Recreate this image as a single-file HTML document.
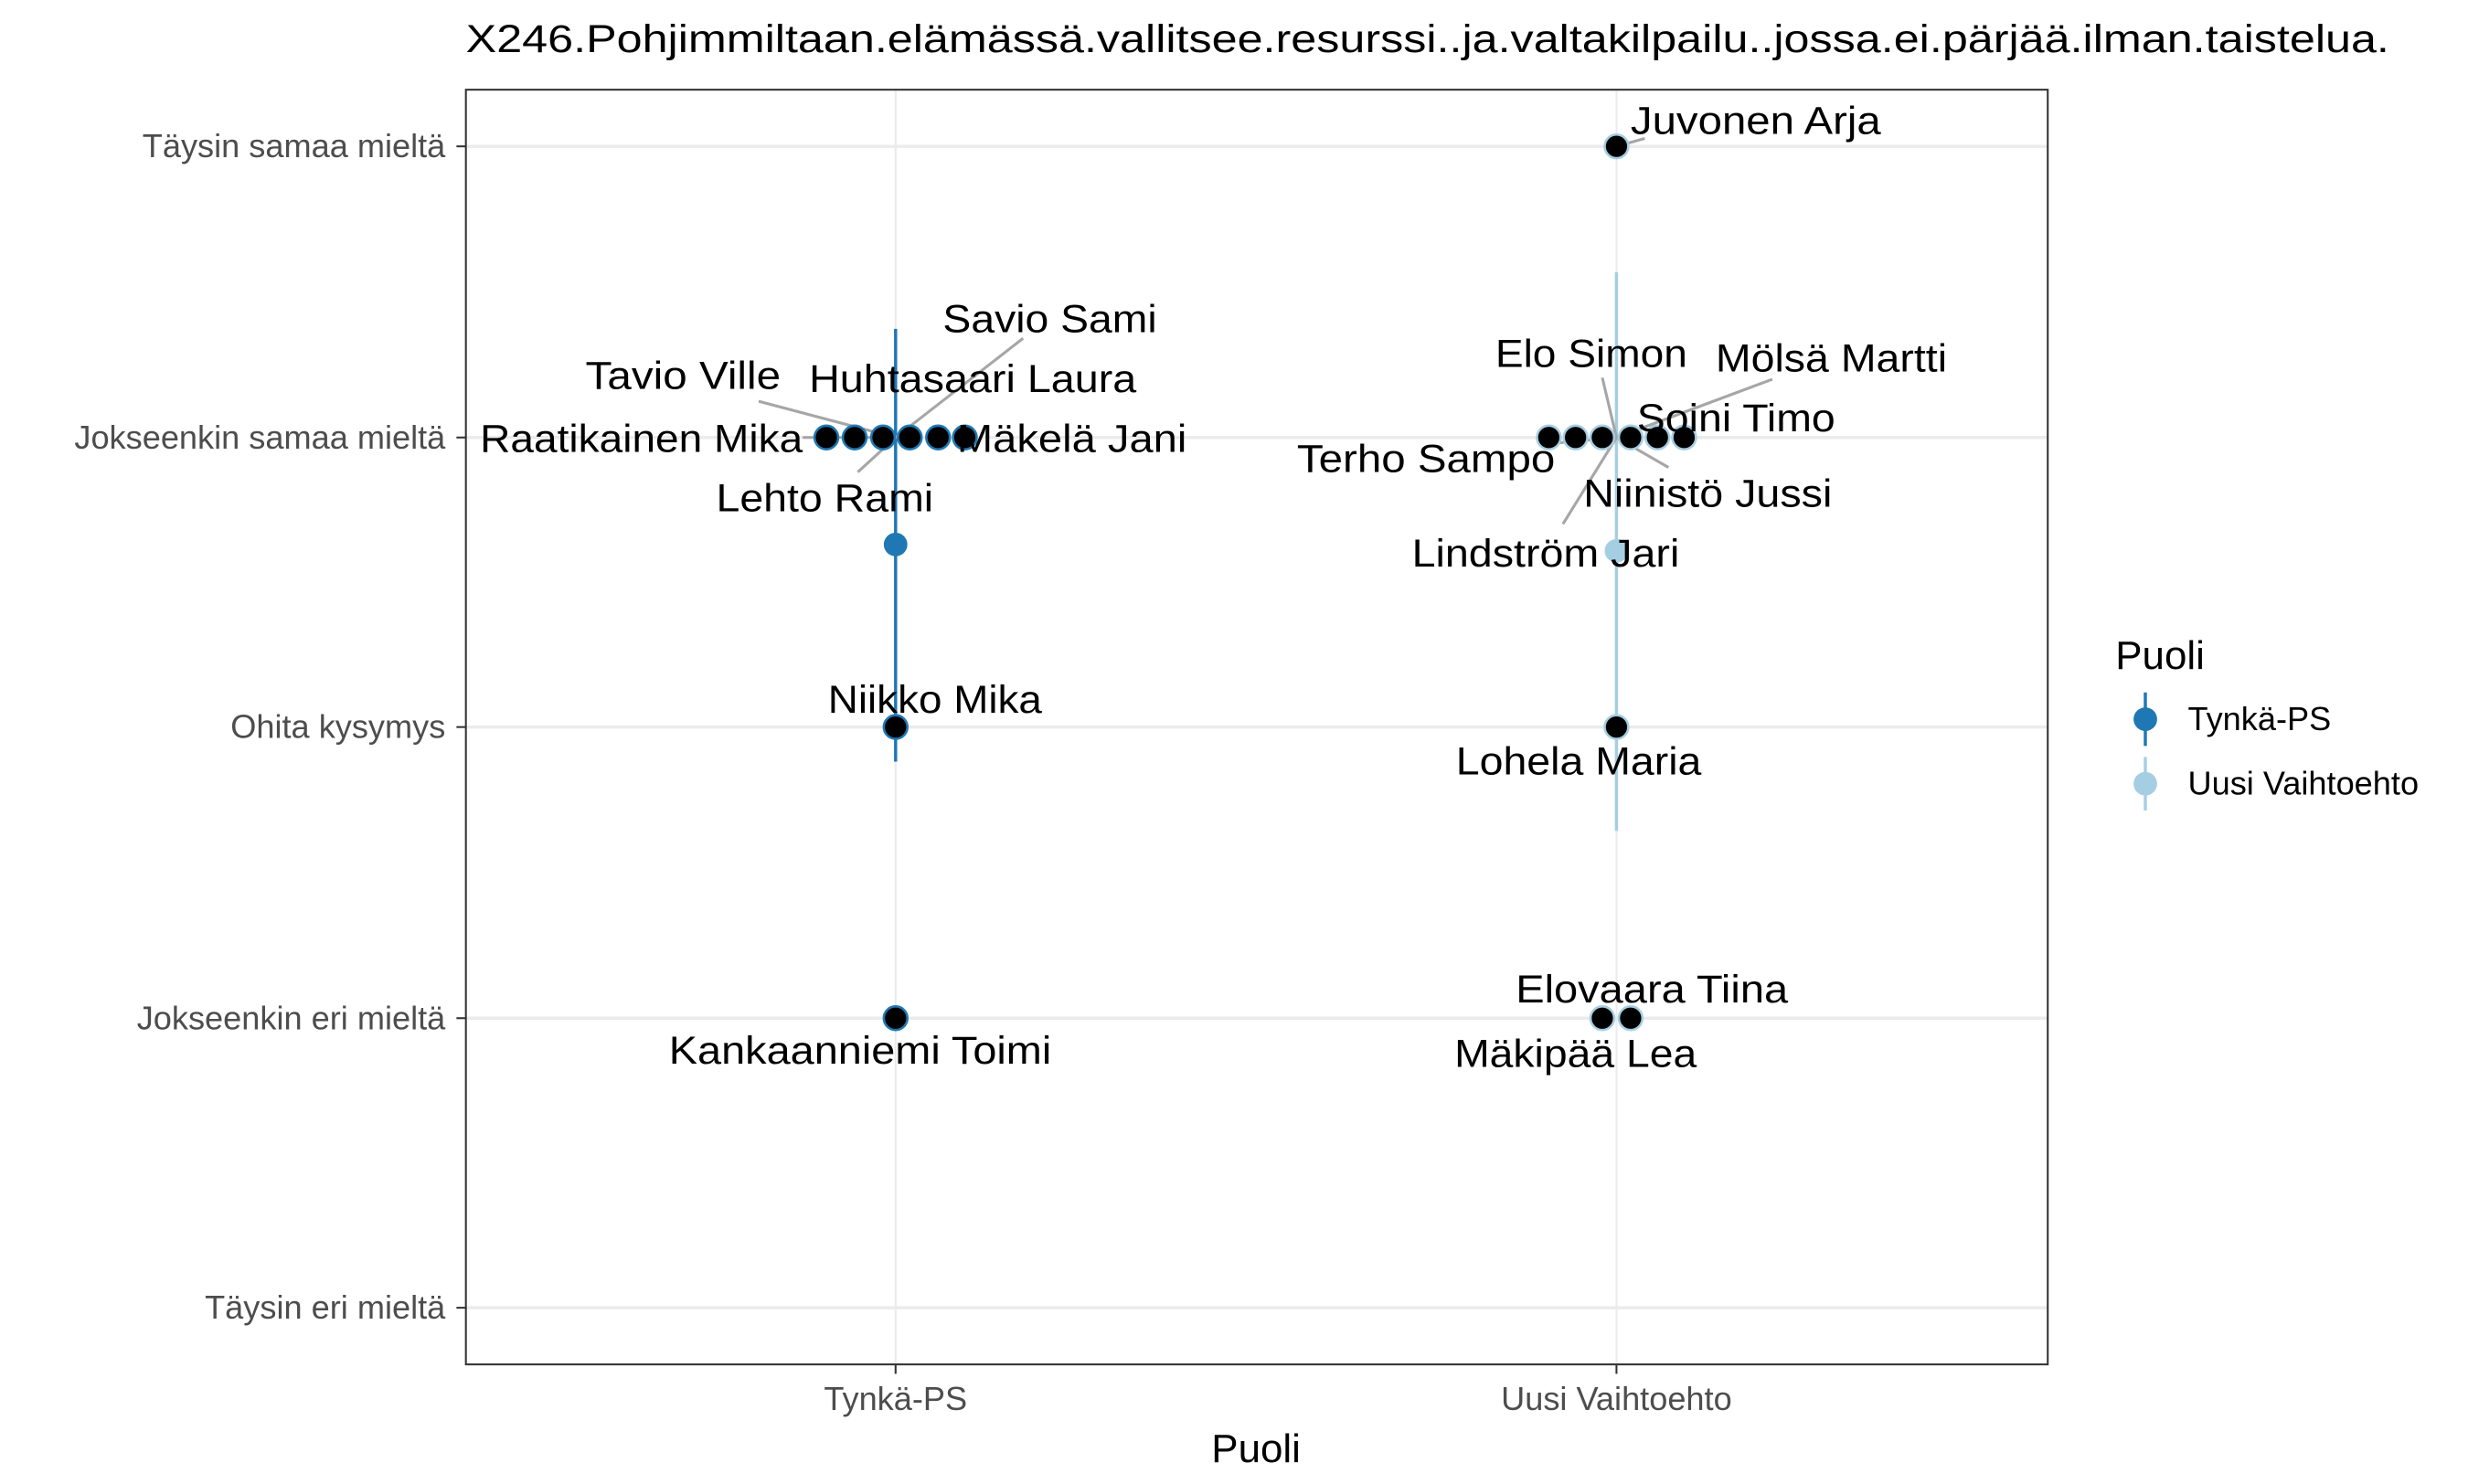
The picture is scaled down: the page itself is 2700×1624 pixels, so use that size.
<!DOCTYPE html>
<html><head><meta charset="utf-8"><style>
html,body{margin:0;padding:0;background:#fff;}
svg{display:block;font-family:"Liberation Sans",Arial,sans-serif;}
</style></head><body>
<svg width="2700" height="1624" viewBox="0 0 1568 943" preserveAspectRatio="none" xmlns="http://www.w3.org/2000/svg">
<rect width="1568" height="943" fill="#fff"/>
<text x="296" y="33" font-size="25" textLength="1222" lengthAdjust="spacingAndGlyphs">X246.Pohjimmiltaan.elämässä.vallitsee.resurssi..ja.valtakilpailu..jossa.ei.pärjää.ilman.taistelua.</text>
<g stroke="#ebebeb" stroke-width="2">
<line x1="296" x2="1301" y1="93" y2="93"/><line x1="296" x2="1301" y1="278" y2="278"/>
<line x1="296" x2="1301" y1="462" y2="462"/><line x1="296" x2="1301" y1="647" y2="647"/>
<line x1="296" x2="1301" y1="831" y2="831"/>
</g>
<g stroke="#ebebeb" stroke-width="1.2">
<line x1="569" x2="569" y1="57" y2="867"/><line x1="1027" x2="1027" y1="57" y2="867"/>
</g>
<line x1="569" x2="569" y1="209" y2="484" stroke="#1f78b4" stroke-width="2"/>
<circle cx="569" cy="346" r="7.5" fill="#1f78b4"/>
<line x1="1027" x2="1027" y1="173" y2="528" stroke="#a6cee3" stroke-width="2"/>
<circle cx="1027" cy="350" r="7.5" fill="#a6cee3"/>
<g stroke="#a6a6a6" stroke-width="1.8">
<line x1="569" y1="278" x2="650" y2="215"/>
<line x1="482" y1="255" x2="569" y2="278"/>
<line x1="510" y1="278" x2="569" y2="278"/>
<line x1="545" y1="300" x2="569" y2="278"/>
<line x1="1027" y1="93" x2="1045" y2="88"/>
<line x1="1018" y1="240" x2="1027" y2="278"/>
<line x1="1126" y1="241" x2="1027" y2="278"/>
<line x1="984" y1="282" x2="1027" y2="278"/>
<line x1="1027" y1="278" x2="1060" y2="297"/>
<line x1="993" y1="333" x2="1027" y2="278"/>
</g>
<g fill="#000" stroke="#1f78b4" stroke-width="1.5">
<circle cx="525" cy="278" r="7.5"/><circle cx="543" cy="278" r="7.5"/><circle cx="561" cy="278" r="7.5"/>
<circle cx="578" cy="278" r="7.5"/><circle cx="596" cy="278" r="7.5"/><circle cx="613" cy="278" r="7.5"/>
<circle cx="569" cy="462" r="7.5"/><circle cx="569" cy="647" r="7.5"/>
</g>
<g fill="#000" stroke="#a6cee3" stroke-width="1.5">
<circle cx="1027" cy="93" r="7.5"/>
<circle cx="984" cy="278" r="7.5"/><circle cx="1001" cy="278" r="7.5"/><circle cx="1018" cy="278" r="7.5"/>
<circle cx="1036" cy="278" r="7.5"/><circle cx="1053" cy="278" r="7.5"/><circle cx="1070" cy="278" r="7.5"/>
<circle cx="1027" cy="462" r="7.5"/>
<circle cx="1018" cy="647" r="7.5"/><circle cx="1036" cy="647" r="7.5"/>
</g>
<g font-size="25" fill="#000">
<text x="599" y="211" textLength="136" lengthAdjust="spacingAndGlyphs">Savio Sami</text>
<text x="514" y="249" textLength="208" lengthAdjust="spacingAndGlyphs">Huhtasaari Laura</text>
<text x="372" y="247" textLength="124" lengthAdjust="spacingAndGlyphs">Tavio Ville</text>
<text x="305" y="287" textLength="205" lengthAdjust="spacingAndGlyphs">Raatikainen Mika</text>
<text x="608" y="287" textLength="146" lengthAdjust="spacingAndGlyphs">Mäkelä Jani</text>
<text x="455" y="325" textLength="138" lengthAdjust="spacingAndGlyphs">Lehto Rami</text>
<text x="526" y="453" textLength="136" lengthAdjust="spacingAndGlyphs">Niikko Mika</text>
<text x="425" y="676" textLength="243" lengthAdjust="spacingAndGlyphs">Kankaanniemi Toimi</text>
<text x="1036" y="85" textLength="159" lengthAdjust="spacingAndGlyphs">Juvonen Arja</text>
<text x="950" y="233" textLength="122" lengthAdjust="spacingAndGlyphs">Elo Simon</text>
<text x="1090" y="236" textLength="147" lengthAdjust="spacingAndGlyphs">Mölsä Martti</text>
<text x="1040" y="274" textLength="126" lengthAdjust="spacingAndGlyphs">Soini Timo</text>
<text x="824" y="300" textLength="164" lengthAdjust="spacingAndGlyphs">Terho Sampo</text>
<text x="1006" y="322" textLength="158" lengthAdjust="spacingAndGlyphs">Niinistö Jussi</text>
<text x="897" y="360" textLength="170" lengthAdjust="spacingAndGlyphs">Lindström Jari</text>
<text x="925" y="492" textLength="156" lengthAdjust="spacingAndGlyphs">Lohela Maria</text>
<text x="963" y="637" textLength="173" lengthAdjust="spacingAndGlyphs">Elovaara Tiina</text>
<text x="924" y="678" textLength="154" lengthAdjust="spacingAndGlyphs">Mäkipää Lea</text>
</g>
<rect x="296" y="57" width="1005" height="810" fill="none" stroke="#333" stroke-width="1.2"/>
<g stroke="#333" stroke-width="1.2">
<line x1="290" x2="296" y1="93" y2="93"/><line x1="290" x2="296" y1="278" y2="278"/>
<line x1="290" x2="296" y1="462" y2="462"/><line x1="290" x2="296" y1="647" y2="647"/>
<line x1="290" x2="296" y1="831" y2="831"/>
<line x1="569" x2="569" y1="867" y2="873"/><line x1="1027" x2="1027" y1="867" y2="873"/>
</g>
<g font-size="21" fill="#4d4d4d" text-anchor="end">
<text x="283" y="100">Täysin samaa mieltä</text>
<text x="283" y="285">Jokseenkin samaa mieltä</text>
<text x="283" y="469">Ohita kysymys</text>
<text x="283" y="654">Jokseenkin eri mieltä</text>
<text x="283" y="838">Täysin eri mieltä</text>
</g>
<g font-size="21" fill="#4d4d4d" text-anchor="middle">
<text x="569" y="896">Tynkä-PS</text>
<text x="1027" y="896">Uusi Vaihtoehto</text>
</g>
<text x="798" y="929" font-size="25.5" text-anchor="middle">Puoli</text>
<text x="1344" y="425" font-size="25.5">Puoli</text>
<line x1="1363" x2="1363" y1="440" y2="474" stroke="#1f78b4" stroke-width="2"/>
<circle cx="1363" cy="457" r="7.5" fill="#1f78b4"/>
<text x="1390" y="464" font-size="21">Tynkä-PS</text>
<line x1="1363" x2="1363" y1="481" y2="515" stroke="#a6cee3" stroke-width="2"/>
<circle cx="1363" cy="498" r="7.5" fill="#a6cee3"/>
<text x="1390" y="505" font-size="21">Uusi Vaihtoehto</text>
</svg>
</body></html>
